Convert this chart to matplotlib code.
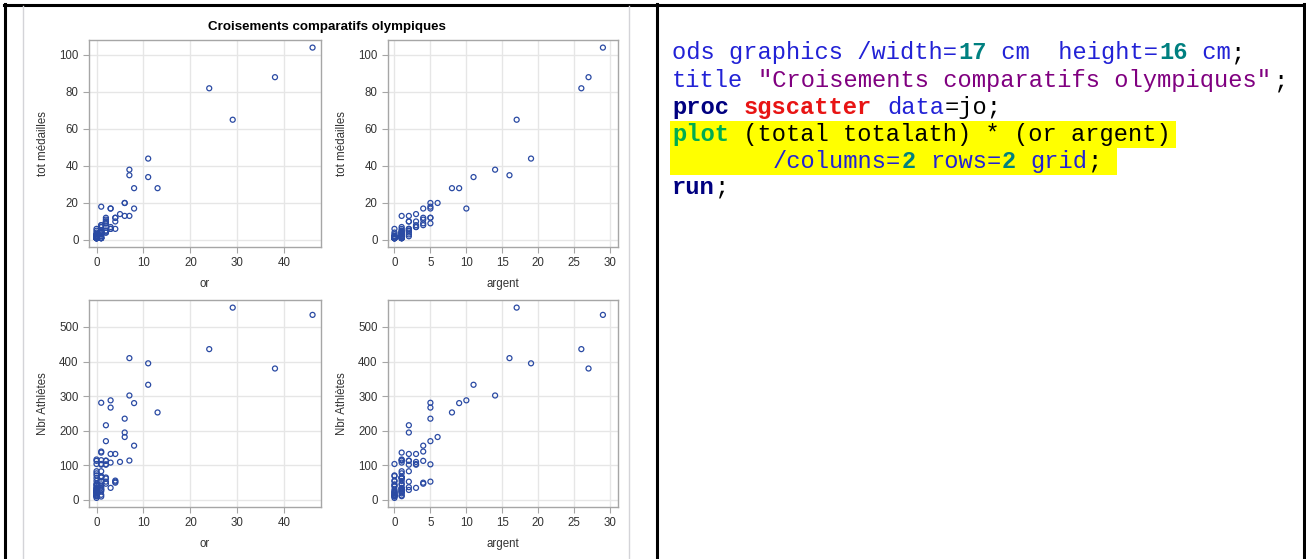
import matplotlib
matplotlib.use("Agg")
import matplotlib.pyplot as plt
from matplotlib.patches import Rectangle

# JO Londres 2012 : or, argent, total medailles, nombre d'athletes
pays = ["USA", "CHN", "GBR", "RUS", "KOR", "GER", "FRA", "ITA", "HUN", "AUS",
        "JPN", "KAZ", "NED", "UKR", "NZL", "CUB", "IRI", "JAM", "CZE", "PRK",
        "ESP", "BRA", "RSA", "ETH", "CRO", "BLR", "ROU", "KEN", "DEN", "AZE",
        "POL", "TUR", "SUI", "LTU", "NOR", "CAN", "SWE", "COL", "GEO", "MEX",
        "IRL", "ARG", "SRB", "SLO", "TUN", "DOM", "TRI", "UZB", "LAT", "ALG",
        "BAH", "GRN", "UGA", "VEN", "IND", "MGL", "THA", "EGY", "SVK", "ARM",
        "BEL", "FIN", "BUL", "EST", "INA", "MAS", "PUR", "TPE", "BOT", "CYP",
        "GAB", "GUA", "MNE", "POR", "GRE", "MDA", "QAT", "SIN", "AFG", "BRN",
        "HKG", "KSA", "KUW", "MAR", "TJK"]
gold = [46, 38, 29, 24, 13, 11, 11, 8, 8, 7,
        7, 7, 6, 6, 6, 5, 4, 4, 4, 4,
        3, 3, 3, 3, 3, 2, 2, 2, 2, 2,
        2, 2, 2, 2, 2, 1, 1, 1, 1, 1,
        1, 1, 1, 1, 1, 1, 1, 1, 1, 1,
        1, 1, 1, 1, 0, 0, 0, 0, 0, 0,
        0, 0, 0, 0, 0, 0, 0, 0, 0, 0,
        0, 0, 0, 0, 0, 0, 0, 0, 0, 0,
        0, 0, 0, 0, 0]
silver = [29, 27, 17, 26, 8, 19, 11, 9, 4, 16,
          14, 1, 6, 5, 2, 3, 5, 4, 3, 0,
          10, 5, 2, 1, 1, 5, 5, 4, 4, 2,
          2, 2, 2, 1, 1, 5, 4, 3, 3, 3,
          1, 1, 1, 1, 1, 1, 0, 0, 0, 0,
          0, 0, 0, 0, 2, 2, 2, 2, 1, 1,
          1, 1, 1, 1, 1, 1, 1, 1, 1, 1,
          1, 1, 1, 1, 0, 0, 0, 0, 0, 0,
          0, 0, 0, 0, 0]
total = [104, 88, 65, 82, 28, 44, 34, 28, 17, 35,
         38, 13, 20, 20, 13, 14, 12, 12, 10, 6,
         17, 17, 6, 7, 6, 12, 9, 11, 9, 10,
         10, 5, 4, 5, 4, 18, 8, 8, 7, 7,
         5, 4, 4, 4, 3, 2, 4, 3, 2, 1,
         1, 1, 1, 1, 6, 5, 3, 2, 4, 3,
         3, 3, 2, 2, 2, 2, 2, 2, 1, 1,
         1, 1, 1, 1, 2, 2, 2, 2, 1, 1,
         1, 1, 1, 1, 1]
totalath = [535, 380, 556, 436, 253, 395, 333, 280, 157, 410,
            302, 114, 182, 235, 195, 110, 53, 50, 133, 56,
            288, 267, 133, 35, 108, 170, 103, 47, 113, 53,
            216, 114, 102, 62, 65, 281, 140, 104, 35, 102,
            66, 137, 115, 65, 83, 30, 30, 54, 45, 39,
            25, 10, 15, 69, 83, 29, 37, 113, 47, 25,
            117, 55, 63, 33, 22, 30, 25, 44, 11, 13,
            26, 19, 34, 77, 104, 21, 12, 23, 6, 12,
            42, 19, 11, 71, 16]

W, H = 1306, 559
plt.rcParams["font.family"] = ["Liberation Sans", "DejaVu Sans"]
fig = plt.figure(figsize=(W / 100, H / 100), dpi=100)
fig.patch.set_facecolor("white")

# fond : cadre du tableau, cadre du graphique, code SAS
bg = fig.add_axes([0, 0, 1, 1])
bg.set_xlim(0, W)
bg.set_ylim(H, 0)
bg.axis("off")
bg.plot([4.5, 4.5], [4, H], color="black", lw=2.2)
bg.plot([4, W - 1], [4.5, 4.5], color="black", lw=2.2)
bg.plot([657, 657], [4, H], color="black", lw=2.2)
bg.plot([W - 2, W - 2], [4, H], color="black", lw=2.2)
bg.plot([22.5, 22.5], [6, H], color="#d4d4d8", lw=1)
bg.plot([628.5, 628.5], [6, H], color="#d4d4d8", lw=1)

x0, cw = 672, 14.33
BLUE, TEAL, PURP, NAVY, RED, GREEN, BLK = ("#2222d6", "#008080", "#800080",
                                          "#000080", "#e81414", "#00ad4f", "#000000")
code = [
    [(0, "ods graphics /width=", BLUE, False), (20, "17", TEAL, True),
     (22, " cm  height=", BLUE, False), (34, "16", TEAL, True),
     (36, " cm", BLUE, False), (39, ";", BLK, False)],
    [(0, "title", BLUE, False), (6, '"Croisements comparatifs olympiques"', PURP, False),
     (42, ";", BLK, False)],
    [(0, "proc", NAVY, True), (5, "sgscatter", RED, True), (15, "data", BLUE, False),
     (19, "=jo;", BLK, False)],
    [(0, "plot", GREEN, True), (4, " (total totalath) * (or argent)", BLK, False)],
    [(7, "/columns=", BLUE, False), (16, "2", TEAL, True), (18, "rows=", BLUE, False),
     (23, "2", TEAL, True), (25, "grid", BLUE, False), (29, ";", BLK, False)],
    [(0, "run", NAVY, True), (3, ";", BLK, False)],
]
base = [59, 87, 114, 141, 168, 194]

# surlignage jaune des lignes 4 et 5
bg.add_patch(Rectangle((670, 121), 1176 - 670, 27, color="#ffff00", lw=0))
bg.add_patch(Rectangle((670, 148), 1117 - 670, 27, color="#ffff00", lw=0))

for row, y in zip(code, base):
    for col, txt, c, b in row:
        bg.text(x0 + col * cw, y, txt, color=c, fontsize=17.1,
                family="Liberation Mono", fontweight="bold" if b else "normal",
                va="baseline", ha="left")

# titre du graphique
fig.text(327 / W, 1 - 27 / H, "Croisements comparatifs olympiques",
         ha="center", va="center", fontsize=9.6, fontweight="bold", color="black")

MK = "#2a4aa3"
GRID = "#e6e6e6"
SPINE = "#a6a6a6"


def panel(rect, x, y, xlim, ylim, xticks, yticks, xlabel, ylabel):
    l, r, t, b = rect
    ax = fig.add_axes([l / W, 1 - b / H, (r - l) / W, (b - t) / H])
    ax.scatter(x, y, s=13, facecolors="none", edgecolors=MK, linewidths=0.9,
               zorder=3)
    ax.set_xlim(*xlim)
    ax.set_ylim(*ylim)
    ax.set_xticks(xticks)
    ax.set_yticks(yticks)
    ax.grid(True, color=GRID, lw=1)
    ax.set_axisbelow(True)
    for s in ax.spines.values():
        s.set_color(SPINE)
        s.set_linewidth(1)
    ax.tick_params(direction="out", length=4, width=0.8, color=SPINE,
                   labelsize=8.3, labelcolor="#333333", pad=3.5)
    ax.set_xlabel(xlabel, fontsize=8.3, color="#333333", labelpad=6.3)
    ax.set_ylabel(ylabel, fontsize=8.3, color="#333333", labelpad=7.5)
    return ax


xl_or = (-1.6, 47.8)
xl_ag = (-0.9, 31.1)
yl_tot = (-3.8, 108.1)
yl_ath = (-20.3, 578)
t_or = [0, 10, 20, 30, 40]
t_ag = [0, 5, 10, 15, 20, 25, 30]
t_tot = [0, 20, 40, 60, 80, 100]
t_ath = [0, 100, 200, 300, 400, 500]

panel((89, 321, 40, 247), gold, total, xl_or, yl_tot, t_or, t_tot, "or", "tot médailles")
panel((388, 618, 40, 247), silver, total, xl_ag, yl_tot, t_ag, t_tot, "argent", "tot médailles")
panel((89, 321, 300, 507), gold, totalath, xl_or, yl_ath, t_or, t_ath, "or", "Nbr Athlètes")
panel((388, 618, 300, 507), silver, totalath, xl_ag, yl_ath, t_ag, t_ath, "argent", "Nbr Athlètes")

fig.savefig("out.png", dpi=100)
